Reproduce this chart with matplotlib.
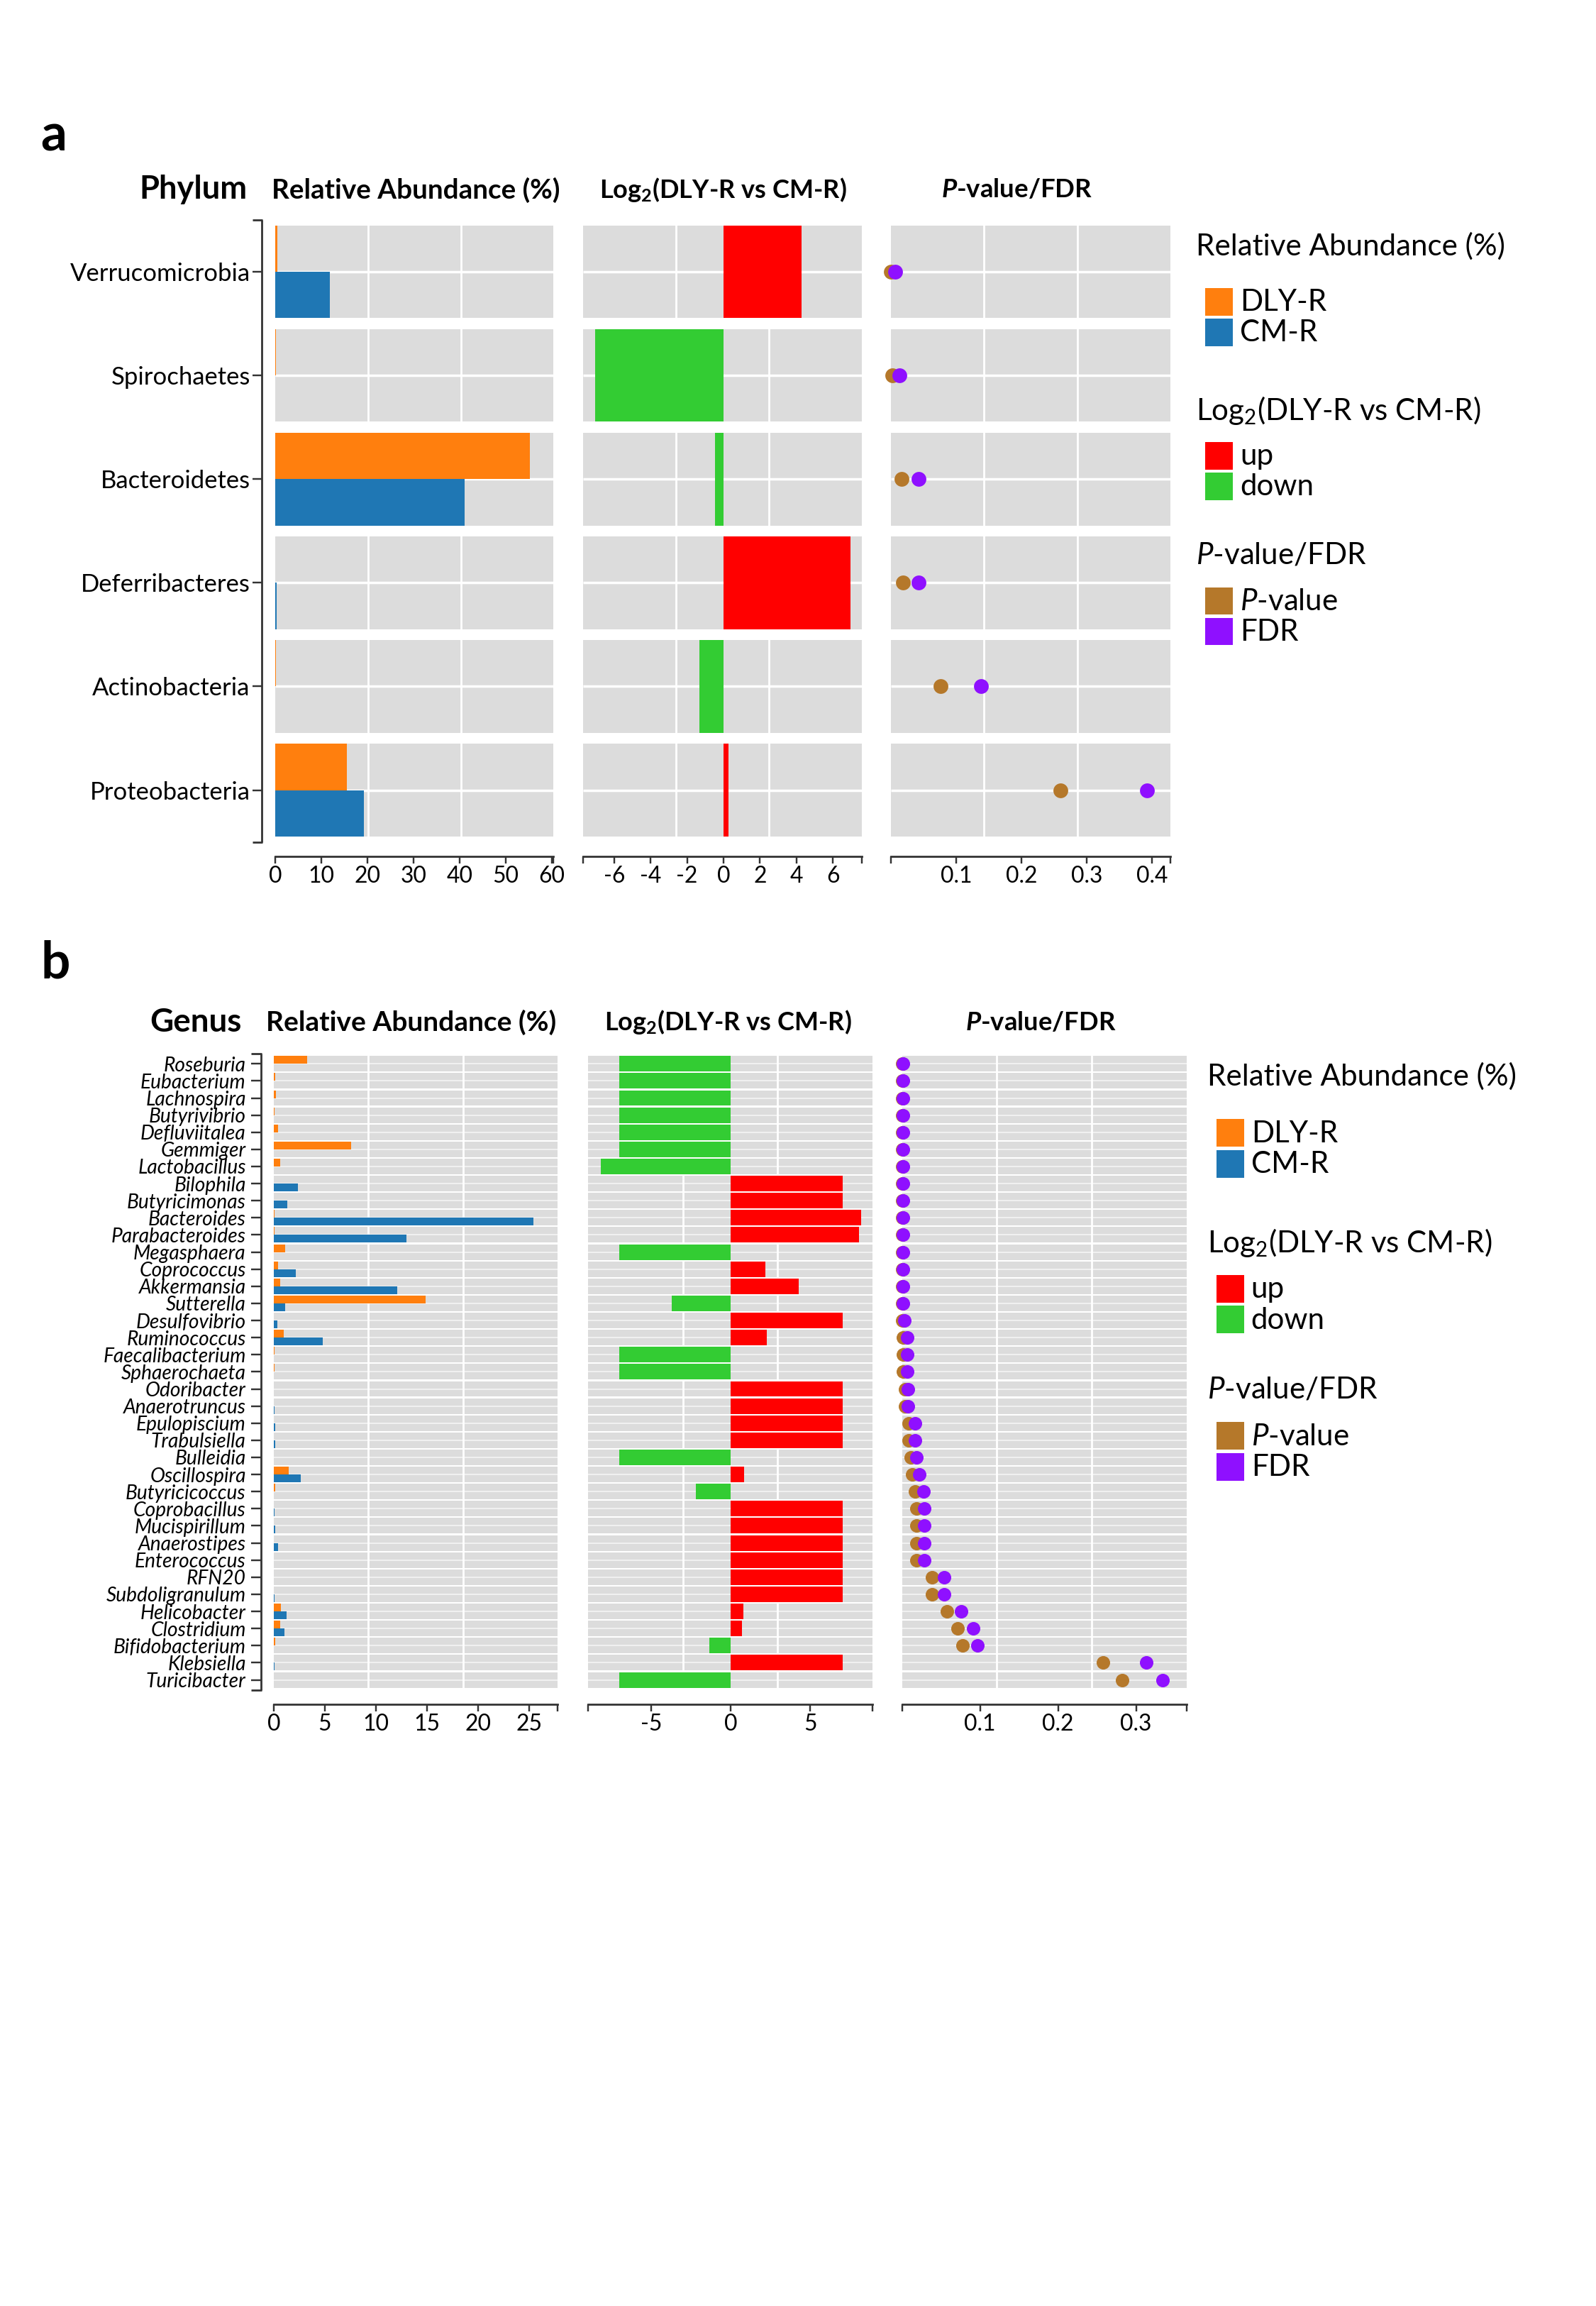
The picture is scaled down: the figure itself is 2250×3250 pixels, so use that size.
import numpy as np
import matplotlib
matplotlib.use('Agg')
import matplotlib.pyplot as plt
from matplotlib.patches import Rectangle
from matplotlib.lines import Line2D

plt.rcParams['font.family'] = ['Lato', 'DejaVu Sans']
plt.rcParams['mathtext.fontset'] = 'custom'
plt.rcParams['mathtext.rm'] = 'Lato'
plt.rcParams['mathtext.it'] = 'Lato:italic'
plt.rcParams['mathtext.bf'] = 'Lato:bold'
plt.rcParams['mathtext.sf'] = 'Lato:bold:italic'

# ---------------- data: panel a (phylum) ----------------
phyla = ['Verrucomicrobia', 'Spirochaetes', 'Bacteroidetes', 'Deferribacteres',
         'Actinobacteria', 'Proteobacteria']
phy_dly = [0.5, 0.1, 55.2, 0.0, 0.15, 15.6]
phy_cm = [11.9, 0.0, 41.1, 0.25, 0.05, 19.2]
phy_log2 = [4.29, -7.03, -0.47, 6.96, -1.34, 0.27]
phy_p = [0.0, 0.002, 0.0156, 0.018, 0.076, 0.26]
phy_fdr = [0.006, 0.0125, 0.0425, 0.0425, 0.1375, 0.392]

# ---------------- data: panel b (genus) ----------------
genera = ['Roseburia', 'Eubacterium', 'Lachnospira', 'Butyrivibrio', 'Defluviitalea',
          'Gemmiger', 'Lactobacillus', 'Bilophila', 'Butyricimonas', 'Bacteroides',
          'Parabacteroides', 'Megasphaera', 'Coprococcus', 'Akkermansia', 'Sutterella',
          'Desulfovibrio', 'Ruminococcus', 'Faecalibacterium', 'Sphaerochaeta',
          'Odoribacter', 'Anaerotruncus', 'Epulopiscium', 'Trabulsiella', 'Bulleidia',
          'Oscillospira', 'Butyricicoccus', 'Coprobacillus', 'Mucispirillum',
          'Anaerostipes', 'Enterococcus', 'RFN20', 'Subdoligranulum', 'Helicobacter',
          'Clostridium', 'Bifidobacterium', 'Klebsiella', 'Turicibacter']
gen_dly = [3.28, 0.12, 0.2, 0.06, 0.42, 7.6, 0.6, 0.0, 0.0, 0.09,
           0.06, 1.08, 0.45, 0.6, 14.85, 0.0, 0.96, 0.09, 0.09,
           0.0, 0.0, 0.0, 0.0, 0.02, 1.45, 0.15, 0.0, 0.0,
           0.0, 0.01, 0.0, 0.0, 0.7, 0.63, 0.12, 0.0, 0.01]
gen_cm = [0.0, 0.0, 0.0, 0.0, 0.0, 0.0, 0.0, 2.35, 1.3, 25.45,
          13.0, 0.0, 2.17, 12.1, 1.11, 0.33, 4.76, 0.0, 0.0,
          0.03, 0.09, 0.15, 0.12, 0.0, 2.62, 0.02, 0.09, 0.15,
          0.4, 0.01, 0.0, 0.06, 1.24, 1.05, 0.02, 0.06, 0.0]
gen_log2 = [-7.02, -7.02, -7.02, -7.02, -7.02, -7.02, -8.15, 7.02, 7.02, 8.2,
            8.07, -7.02, 2.18, 4.3, -3.7, 7.02, 2.28, -7.02, -7.02,
            7.02, 7.02, 7.02, 7.02, -7.02, 0.85, -2.18, 7.02, 7.02,
            7.02, 7.02, 7.02, 7.02, 0.8, 0.73, -1.35, 7.02, -7.02]
gen_p = [0.0, 0.0, 0.0, 0.0, 0.0, 0.0, 0.0, 0.0, 0.0, 0.0,
         0.0, 0.0, 0.0, 0.0, 0.0, 0.0005, 0.001, 0.001, 0.001,
         0.004, 0.004, 0.009, 0.009, 0.011, 0.013, 0.017, 0.019, 0.019,
         0.019, 0.019, 0.039, 0.039, 0.0577, 0.0714, 0.078, 0.258, 0.282]
gen_fdr = [0.0015, 0.0015, 0.0015, 0.0015, 0.0015, 0.0015, 0.0015, 0.0015, 0.0015, 0.0018,
           0.0018, 0.0018, 0.0018, 0.0018, 0.0018, 0.003, 0.0066, 0.0066, 0.0066,
           0.0077, 0.0077, 0.0168, 0.0168, 0.019, 0.022, 0.028, 0.0286, 0.0286,
           0.0286, 0.0286, 0.054, 0.054, 0.0755, 0.0918, 0.0964, 0.313, 0.334]

# ---------------- style ----------------
C_DLY = '#ff7f0e'
C_CM = '#1f77b4'
C_UP = '#ff0000'
C_DOWN = '#33cc33'
C_P = '#b5782a'
C_FDR = '#8f10ff'
GRAY = '#dcdcdc'
AXC = '#333333'

W, H, DPI = 2250, 3250, 250
fig = plt.figure(figsize=(W / DPI, H / DPI), dpi=DPI)
fig.patch.set_facecolor('white')
renderer = fig.canvas.get_renderer()
PT = 72.0 / DPI  # points per pixel


def fit_size(s, target_w, **kw):
    t = fig.text(0, 0, s, fontsize=10, **kw)
    w = t.get_window_extent(renderer).width
    t.remove()
    return 10 * target_w / w


def ftext(x, y, s, size, **kw):
    return fig.text(x / W, 1 - y / H, s, fontsize=size, **kw)


def fline(xs, ys, lw=0.8):
    fig.add_artist(Line2D([x / W for x in xs], [1 - y / H for y in ys],
                          transform=fig.transFigure, color=AXC, lw=lw,
                          solid_capstyle='butt'))


def column(left, right, top, bottom, n, h, xlim, xticks, xlabels, geo):
    ax = fig.add_axes([left / W, 1 - bottom / H, (right - left) / W, (bottom - top) / H])
    ax.set_facecolor('none')
    ax.set_xlim(*xlim)
    ax.set_ylim(n - 1 + h / 2, -h / 2)
    span = xlim[1] - xlim[0]
    for i in range(n):
        ax.axhspan(i - h / 2, i + h / 2, color=GRAY, lw=0, zorder=0)
    ax.hlines(np.arange(n), xlim[0], xlim[1], colors='white', lw=geo['hlw'],
              alpha=geo['halpha'], zorder=0.6)
    for f in (1 / 3, 2 / 3):
        ax.axvline(xlim[0] + f * span, color='white', lw=0.8, zorder=0.6)
    for s in ('top', 'right', 'left'):
        ax.spines[s].set_visible(False)
    ax.spines['bottom'].set_position(('outward', geo['aoff'] * PT))
    ax.spines['bottom'].set_color(AXC)
    ax.spines['bottom'].set_linewidth(0.8)
    ax.set_xticks(xticks)
    ax.set_xticklabels(xlabels)
    ax.set_xticks([xlim[0], xlim[1]], minor=True)
    ax.tick_params(axis='x', which='both', length=10 * PT, width=0.7, color=AXC,
                   labelsize=geo['tsize'], pad=3 * PT)
    ax.set_yticks([])
    return ax


def left_axis(ax, n, h, labels, geo):
    L = geo['cols'][0][0]
    xs = L - geo['loff']
    ax.spines['left'].set_position(('outward', geo['loff'] * PT))
    ax.spines['left'].set_visible(False)
    ax.set_yticks(np.arange(n))
    ax.set_yticklabels(labels, fontsize=geo['lsize'],
                       style='italic' if geo['italic'] else 'normal')
    ax.tick_params(axis='y', which='major', length=geo['tlen'] * PT, width=0.7,
                   color=AXC, pad=geo['lpad'] * PT)
    # bracket-shaped axis line with outer end ticks
    y0 = geo['top'] - geo['ext']
    y1 = geo['bottom'] + geo['ext']
    fline([xs, xs], [y0, y1])
    fline([xs - geo['tlen'], xs + 0.8], [y0, y0])
    fline([xs - geo['tlen'], xs + 0.8], [y1, y1])


def draw_panel(names, dly, cm, log2, pval, fdr, geo):
    n = len(names)
    h = geo['h']
    top, bottom = geo['top'], geo['bottom']
    y = np.arange(n)
    # relative abundance
    L, R = geo['cols'][0]
    ax1 = column(L, R, top, bottom, n, h, geo['xl1'], geo['xt1'],
                 [str(v) for v in geo['xt1']], geo)
    ax1.barh(y - h / 4, dly, height=h / 2, color=C_DLY, zorder=2, lw=0)
    ax1.barh(y + h / 4, cm, height=h / 2, color=C_CM, zorder=2, lw=0)
    left_axis(ax1, n, h, names, geo)
    # log2 fold change
    L, R = geo['cols'][1]
    ax2 = column(L, R, top, bottom, n, h, geo['xl2'], geo['xt2'],
                 [str(v) for v in geo['xt2']], geo)
    cols = [C_UP if v > 0 else C_DOWN for v in log2]
    ax2.barh(y, log2, height=h, color=cols, zorder=2, lw=0)
    # p-value / FDR
    L, R = geo['cols'][2]
    ax3 = column(L, R, top, bottom, n, h, geo['xl3'], geo['xt3'],
                 [str(v) for v in geo['xt3']], geo)
    ax3.scatter(pval, y, s=geo['ms'], color=C_P, zorder=3, clip_on=False, lw=0)
    ax3.scatter(fdr, y, s=geo['ms'], color=C_FDR, zorder=4, clip_on=False, lw=0)


geo_a = dict(h=0.895, top=317.5, bottom=1179,
             cols=[(388, 780.3), (821.8, 1214.5), (1256.4, 1649.6)],
             xl1=(0, 60.4), xt1=[0, 10, 20, 30, 40, 50, 60],
             xl2=(-7.71, 7.57), xt2=[-6, -4, -2, 0, 2, 4, 6],
             xl3=(0, 0.428), xt3=[0.1, 0.2, 0.3, 0.4],
             aoff=27.7, hlw=1.0, halpha=1.0, tsize=9.2, loff=19.3, tlen=13, lpad=3,
             ext=8, italic=False, ms=36,
             lsize=fit_size('Verrucomicrobia', 254))
geo_b = dict(h=0.91, top=1488.3, bottom=2378.5,
             cols=[(386, 786.1), (829, 1229.7), (1271.5, 1673)],
             xl1=(0, 27.8), xt1=[0, 5, 10, 15, 20, 25],
             xl2=(-8.96, 8.9), xt2=[-5, 0, 5],
             xl3=(0, 0.365), xt3=[0.1, 0.2, 0.3],
             aoff=23.4, hlw=0.6, halpha=0.6, tsize=9.2, loff=18.3, tlen=14, lpad=7,
             ext=3, italic=True, ms=30,
             lsize=fit_size('Faecalibacterium', 202, style='italic'))

draw_panel(phyla, phy_dly, phy_cm, phy_log2, phy_p, phy_fdr, geo_a)
draw_panel(genera, gen_dly, gen_cm, gen_log2, gen_p, gen_fdr, geo_b)

# ---------------- panel letters & headers ----------------
ftext(76, 192, 'a', 21, weight='bold', ha='center', va='center')
ftext(78, 1358, 'b', 21, weight='bold', ha='center', va='center')

T_RA = 'Relative Abundance (%)'
T_L2B = r'Log$_{\mathbf{2}}$(DLY-R vs CM-R)'
T_PB = r'$\mathsf{P}$-value/FDR'
headers_a = [('Phylum', 272, 152), (T_RA, 585.8, 408), (T_L2B, 1019.3, 349), (T_PB, 1433.8, 213.5)]
headers_b = [('Genus', 276, 129.6), (T_RA, 579.6, 410), (T_L2B, 1026.6, 349), (T_PB, 1466.9, 213)]
for hdrs, yc in ((headers_a, 267.5), (headers_b, 1441)):
    for s, xc, wt in hdrs:
        sz = fit_size(s, wt, weight='bold')
        ftext(xc, yc, s, sz, weight='bold', ha='center', va='center')

# ---------------- legends ----------------
T_L2 = r'Log$_2$(DLY-R vs CM-R)'
T_P = r'$\mathit{P}$-value/FDR'
leg_size = fit_size(T_RA, 437)


def legend(x0, base, sy, psz):
    # (title, title baseline offset, first patch top offset, items)
    groups = [(T_RA, 0.0, 46.5, [(C_DLY, 'DLY-R'), (C_CM, 'CM-R')]),
              (T_L2, 232.4, 263.4, [(C_UP, 'up'), (C_DOWN, 'down')]),
              (T_P, 435.2, 468.2, [(C_P, r'$\mathit{P}$-value'), (C_FDR, 'FDR')])]
    for title, dt, dp, items in groups:
        ftext(x0, base + dt * sy, title, leg_size, ha='left', va='baseline')
        for k, (c, lab) in enumerate(items):
            py = base + (dp + 43 * k) * sy
            fig.patches.append(Rectangle(((x0 + 13) / W, 1 - (py + psz) / H),
                                         psz / W, psz / H,
                                         transform=fig.transFigure, color=c, lw=0))
            ftext(x0 + 62, py + 32 * sy, lab, leg_size, ha='left', va='baseline')


legend(1686, 359.6, 1.0, 38.6)
legend(1701.7, 1530, 1.013, 39)

fig.savefig('out.png', dpi=DPI, facecolor='white')
